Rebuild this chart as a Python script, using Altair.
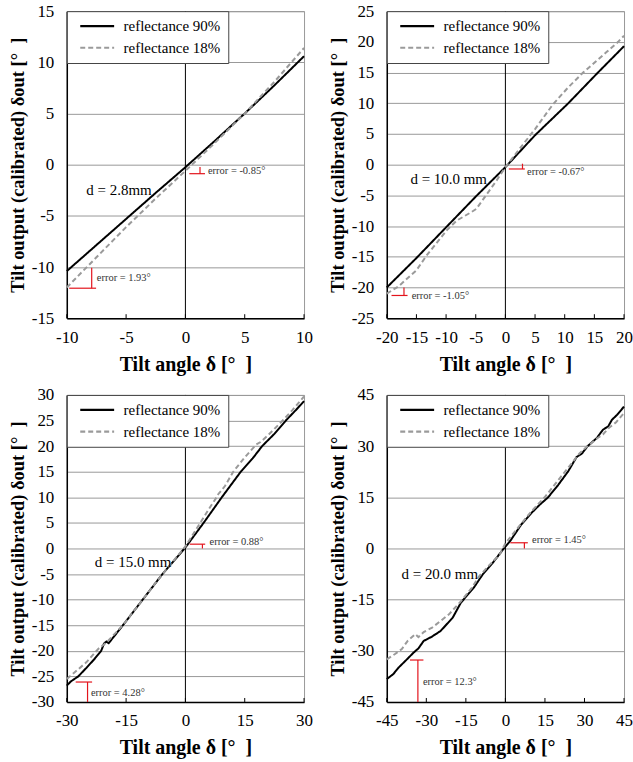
import altair as alt
import pandas as pd

SERIES = ["reflectance 90%", "reflectance 18%"]
SERIES_COLORS = ["#000000", "#9a9a9a"]
SERIES_DASH = [[1, 0], [5, 3]]

# ---------------- Panel 1 : d = 2.8 mm ----------------
p1_angle_90 = [-10, -7.5, -5, -2.5, 0, 2.5, 5, 7.5, 10]
p1_out_90 = [-10.4, -7.85, -5.3, -2.75, -0.25, 2.35, 5.0, 7.75, 10.6]
p1_angle_18 = [-10, -7.5, -5, -2.5, 0, 2.5, 5, 7.5, 10]
p1_out_18 = [-12.0, -9.05, -6.1, -3.3, -0.6, 2.15, 5.0, 8.1, 11.4]
p1_xdomain = [-10, 10]
p1_xticks = [-10, -5, 0, 5, 10]
p1_ydomain = [-15, 15]
p1_yticks = [-15, -10, -5, 0, 5, 10, 15]
p1_err_segments = [(0.33, -0.88, 1.65, -0.88), (1.23, -0.23, 1.23, -0.88),
                   (-7.9, -10.07, -7.9, -12.07), (-9.8, -12.07, -7.53, -12.07)]
p1_err_labels = [(1.9, -0.62, "error = -0.85°"), (-7.47, -11.04, "error = 1.93°")]
p1_d_label = (-8.35, -2.5, "d = 2.8mm")

# ---------------- Panel 2 : d = 10.0 mm ----------------
p2_angle_90 = [-20, -15, -10, -5, 0, 5, 10.6, 15.6, 20]
p2_out_90 = [-20.0, -15.2, -10.2, -5.2, -0.4, 4.8, 10.0, 15.0, 19.3]
p2_angle_18 = [-20, -18, -15, -13.3, -9.9, -8.2, -5.7, -4.9, -1.5, 0, 2.4, 5, 8, 10.5, 13.1, 15, 17, 19, 20]
p2_out_18 = [-21.0, -19.8, -17.2, -14.8, -10.7, -9.1, -7.7, -7.2, -2.6, -0.4, 2.6, 5.8, 9.8, 12.5, 15.0, 16.6, 18.3, 20.0, 21.0]
p2_xdomain = [-20, 20]
p2_xticks = [-20, -15, -10, -5, 0, 5, 10, 15, 20]
p2_ydomain = [-25, 25]
p2_yticks = [-25, -20, -15, -10, -5, 0, 5, 10, 15, 20, 25]
p2_err_segments = [(0.57, -0.7, 3.27, -0.7), (2.88, 0.16, 2.88, -0.7),
                   (-19.2, -21.3, -16.5, -21.3), (-17.1, -20.0, -17.1, -21.3)]
p2_err_labels = [(3.66, -1.25, "error = -0.67°"), (-15.8, -21.4, "error = -1.05°")]
p2_d_label = (-16.0, -2.3, "d = 10.0 mm")

# ---------------- Panel 3 : d = 15.0 mm ----------------
p3_angle_90 = [-30, -29, -27.1, -25, -23, -21.3, -20.6, -20.0, -19.4, -15.8, -10.8, -5.8, 0,
               4.6, 9.2, 14.0, 17, 19.4, 22.5, 25.4, 28, 30]
p3_out_90 = [-26.8, -26.0, -25.0, -23.3, -21.6, -20.0, -18.6, -18.2, -18.5, -15.0, -10.0, -5.0, 0.2,
             5.0, 10.0, 15.0, 17.6, 20.0, 22.4, 25.0, 27.1, 28.8]
p3_angle_18 = [-30, -28, -25, -22, -20, -15.8, -10.8, -5.8, 0, 3.75, 6, 7.9, 8.3, 10, 12.1,
               15, 17.9, 19, 21, 24.6, 27, 30]
p3_out_18 = [-25.5, -24.2, -22.2, -19.6, -18.4, -15.0, -10.0, -5.0, 0.4, 5.0, 7.8, 10.0, 10.6, 12.2, 15.0,
             17.8, 20.3, 20.8, 22.2, 25.0, 27.0, 29.7]
p3_xdomain = [-30, 30]
p3_xticks = [-30, -15, 0, 15, 30]
p3_ydomain = [-30, 30]
p3_yticks = [-30, -25, -20, -15, -10, -5, 0, 5, 10, 15, 20, 25, 30]
p3_err_segments = [(1.08, 0.84, 5.0, 0.84), (4.3, 0.84, 4.3, 0.0),
                   (-24.75, -26.1, -24.75, -30.0), (-27.75, -26.1, -23.6, -26.1)]
p3_err_labels = [(6.1, 1.17, "error = 0.88°"), (-23.9, -28.2, "error = 4.28°")]
p3_d_label = (-22.9, -2.6, "d = 15.0 mm")

# ---------------- Panel 4 : d = 20.0 mm ----------------
p4_angle_90 = [-45, -42.5, -40.5, -38, -34.8, -33, -31, -28, -24.6, -20, -16.9, -12, -8.6, -5, -0.9,
               2, 6, 10, 13, 16.2, 20, 23.8, 27, 29, 31.2, 34.7, 37, 39, 40.4, 42.4, 45]
p4_out_90 = [-38.3, -36.8, -34.9, -33.0, -30.5, -29.3, -27.1, -25.9, -24.2, -20.3, -15.9, -11.5, -7.6, -4.4, -0.3,
             2.4, 7.0, 10.5, 12.8, 15.0, 18.6, 22.6, 26.8, 27.8, 30.0, 32.4, 34.8, 35.8, 37.7, 39.2, 41.6]
p4_angle_18 = [-45, -42, -39.3, -37, -34.2, -33, -31, -27.8, -25, -21.4, -16.9, -13, -9.9, -6, -2.2,
               0, 5, 10, 14.9, 20, 25, 28, 31.2, 35, 37, 39.2, 42, 45]
p4_out_18 = [-32.5, -31.0, -29.5, -27.0, -25.1, -26.0, -24.5, -23.2, -21.5, -19.3, -15.5, -11.8, -8.1, -4.8, -1.8,
             1.5, 6.3, 11.0, 15.0, 20.0, 24.8, 27.8, 30.0, 32.4, 33.4, 35.3, 37.0, 39.7]
p4_xdomain = [-45, 45]
p4_xticks = [-45, -30, -15, 0, 15, 30, 45]
p4_ydomain = [-45, 45]
p4_yticks = [-45, -30, -15, 0, 15, 30, 45]
p4_err_segments = [(1.86, 1.67, 8.5, 1.67), (7.2, 1.67, 7.2, 0.0),
                   (-36.2, -32.7, -31.1, -32.7), (-33.2, -32.7, -33.2, -45.0)]
p4_err_labels = [(10.1, 2.6, "error = 1.45°"), (-31.3, -39.0, "error = 12.3°")]
p4_d_label = (-39.4, -7.6, "d = 20.0 mm")

X_TITLE = "Tilt angle δ [°\u00a0\u00a0]"
Y_TITLE = "Tilt output (calibrated) δout [°\u00a0\u00a0]"
SERIF = "Liberation Serif"
PANEL_W = 238
PANEL_H = 308
LABEL_EXPR = "datum.value < 0 ? '-' + abs(datum.value) : '' + datum.value"


def panel(a90, o90, a18, o18, xdom, xticks, ydom, yticks, segs, elabels, dlabel):
    xenc = alt.X("x:Q", scale=alt.Scale(domain=xdom, nice=False, zero=False),
                 axis=alt.Axis(values=xticks, title=X_TITLE, labelFlush=False,
                               labelOverlap=False, labelExpr=LABEL_EXPR))
    yenc = alt.Y("y:Q", scale=alt.Scale(domain=ydom, nice=False, zero=False),
                 axis=alt.Axis(values=yticks, title=Y_TITLE, labelOverlap=False,
                               labelExpr=LABEL_EXPR, labelFlush=False))

    line_df = pd.DataFrame({
        "x": a90 + a18,
        "y": o90 + o18,
        "s": [SERIES[0]] * len(a90) + [SERIES[1]] * len(a18),
    })
    zero_df = pd.DataFrame({"x": [0]})
    tick_df = pd.DataFrame({"x": xticks, "y": [ydom[0]] * len(xticks)})
    seg_df = pd.DataFrame(segs, columns=["x", "y", "x2", "y2"])
    lab_df = pd.DataFrame(elabels, columns=["x", "y", "t"])
    d_df = pd.DataFrame([dlabel], columns=["x", "y", "t"])

    leg = alt.Legend(title=None, labelFont=SERIF, labelFontSize=15)
    zero = alt.Chart(zero_df).mark_rule(color="black", strokeWidth=1).encode(x=xenc)
    lines = alt.Chart(line_df).mark_line(strokeWidth=2).encode(
        x=xenc, y=yenc,
        color=alt.Color("s:N", scale=alt.Scale(domain=SERIES, range=SERIES_COLORS), legend=leg),
        strokeDash=alt.StrokeDash("s:N", scale=alt.Scale(domain=SERIES, range=SERIES_DASH), legend=leg),
    )
    ticks = alt.Chart(tick_df).mark_point(shape="M0,-1L0,0", size=64, color="black",
                                          strokeWidth=1, filled=False, opacity=1).encode(x=xenc, y=yenc)
    err = alt.Chart(seg_df).mark_rule(color="#e3141c", strokeWidth=1.2).encode(
        x=xenc, y=yenc, x2="x2:Q", y2="y2:Q")
    elab = alt.Chart(lab_df).mark_text(align="left", baseline="middle", font=SERIF,
                                       fontSize=10.5, color="#333333").encode(x=xenc, y=yenc, text="t:N")
    dlab = alt.Chart(d_df).mark_text(align="left", baseline="middle", font=SERIF,
                                     fontSize=15, color="black").encode(x=xenc, y=yenc, text="t:N")
    return alt.layer(zero, lines, ticks, err, elab, dlab).properties(width=PANEL_W, height=PANEL_H)


p1 = panel(p1_angle_90, p1_out_90, p1_angle_18, p1_out_18, p1_xdomain, p1_xticks,
           p1_ydomain, p1_yticks, p1_err_segments, p1_err_labels, p1_d_label)
p2 = panel(p2_angle_90, p2_out_90, p2_angle_18, p2_out_18, p2_xdomain, p2_xticks,
           p2_ydomain, p2_yticks, p2_err_segments, p2_err_labels, p2_d_label)
p3 = panel(p3_angle_90, p3_out_90, p3_angle_18, p3_out_18, p3_xdomain, p3_xticks,
           p3_ydomain, p3_yticks, p3_err_segments, p3_err_labels, p3_d_label)
p4 = panel(p4_angle_90, p4_out_90, p4_angle_18, p4_out_18, p4_xdomain, p4_xticks,
           p4_ydomain, p4_yticks, p4_err_segments, p4_err_labels, p4_d_label)


def indep(c):
    return c.resolve_scale(color="independent", strokeDash="independent").resolve_legend(
        color="independent", strokeDash="independent")


row1 = indep(alt.hconcat(p1, p2, spacing=14))
row2 = indep(alt.hconcat(p3, p4, spacing=14))
chart = indep(alt.vconcat(row1, row2, spacing=10)).properties(
    padding={"left": 7, "top": 0, "right": 0, "bottom": 0},
    background="white",
).configure_view(
    stroke="#999999", strokeWidth=1, fill="white"
).configure_axis(
    labelFont=SERIF, labelFontSize=17, labelColor="black",
    titleFont=SERIF, titleFontSize=20, titleFontWeight="bold", titleColor="black",
    domainColor="black", domainWidth=1.5, ticks=False, grid=False,
).configure_axisY(
    grid=True, gridColor="#999999", gridWidth=1, labelPadding=13, titlePadding=4,
    titleFontSize=18.5,
).configure_axisX(
    labelPadding=11, titlePadding=9,
).configure_legend(
    orient="top-left", offset=0, padding=7, fillColor="white", strokeColor="#444444",
    labelFont=SERIF, labelFontSize=15, labelColor="black", labelOffset=8, symbolOffset=5,
    symbolType="stroke", symbolSize=1156, symbolStrokeWidth=2.2, clipHeight=16, rowPadding=5.7,
)

chart.save("out.html", embed_options={"renderer": "svg", "actions": False})
